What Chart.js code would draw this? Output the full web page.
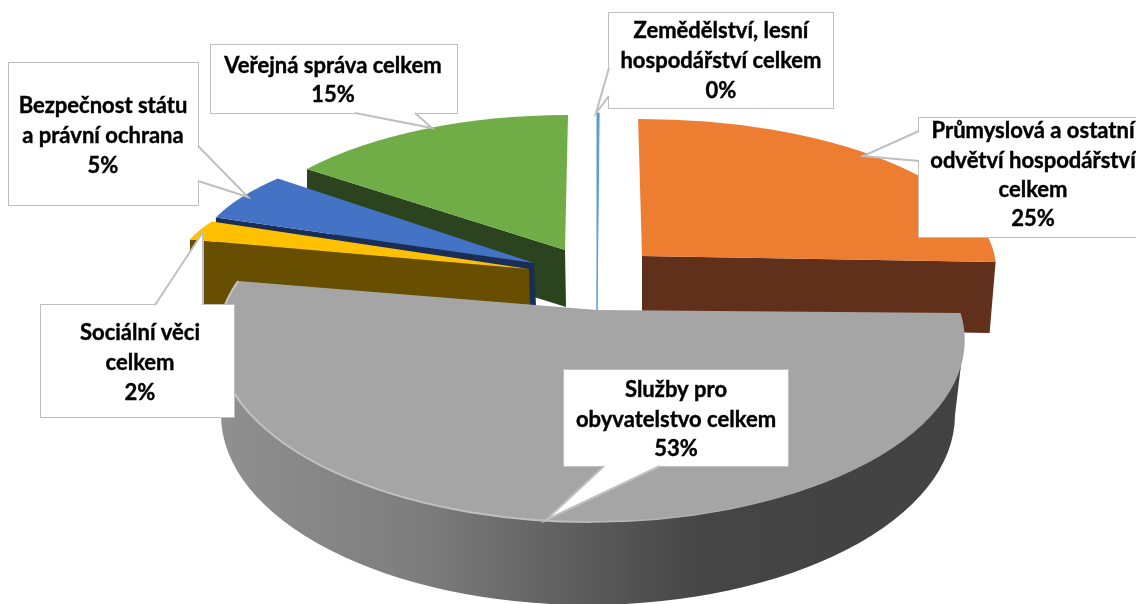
<!DOCTYPE html>
<html><head><meta charset="utf-8">
<style>html,body{margin:0;padding:0;background:#fff}canvas{display:block}</style>
<script src="https://cdn.jsdelivr.net/npm/chart.js@4"></script>
</head><body><canvas id="c" width="1136" height="604"></canvas>
<script>
const categories = ["Zemědělství, lesní hospodářství celkem","Průmyslová a ostatní odvětví hospodářství celkem","Služby pro obyvatelstvo celkem","Sociální věci celkem","Bezpečnost státu a právní ochrana","Veřejná správa celkem"];
const shares = [0.1, 25, 53, 2, 5, 15];
const percentLabels = ["0%","25%","53%","2%","5%","15%"];
const labelLines = [["Zemědělství, lesní","hospodářství celkem"],["Průmyslová a ostatní","odvětví hospodářství","celkem"],["Služby pro","obyvatelstvo celkem"],["Sociální věci","celkem"],["Bezpečnost státu","a právní ochrana"],["Veřejná správa celkem"]];
const topColors = ["#5b9bd5","#ed7d31","#a5a5a5","#ffc000","#4472c4","#70ad47"];
const wallColors = ["#5b9bd5","#61301a","#555555","#674e00","#1a2d57","#2c431f"];

// per-slice projection of the library's arc onto the tilted, exploded plane
const projection = [
 {tip:[597,310],c:[597,263],r:[340,150],d:[0,0],edge:null,h:[0,0]},
 {tip:[642,256],c:[640,269],r:[356,150],d:[-0.66,-2.97],edge:1,h:[71,71],dx:[0,-6]},
 {tip:[597,310],c:[591,340],r:[373,182],d:[-8.77,8],edge:null,h:[0,0]},
 {tip:[529,269],c:[535,263],r:[355,100],d:[2.7,6.4],edge:0,h:[41,70],dx:[1,0]},
 {tip:[534,263],c:[535,261],r:[340,126],d:[2.1,4.8],edge:0,h:[43,43],dx:[2,0]},
 {tip:[565,250],c:[568,265],r:[340,150],d:[3.8,0],edge:0,h:[57,57],dx:[1,0]}
];
const drawOrder = [5,4,3,1,0,2];
const greyBase = {c:[588,415],r:[367,190]};
const callouts = [
 {box:[609,13,833,108],ptr:[[609,68],[596,113],[609,96]],tx:721,ty:[31,61,91]},
 {box:[919,118,1150,237],ptr:[[919,131],[863,156],[919,161]],tx:1033,ty:[131,161,190,219]},
 {box:[564,370,788,466],ptr:[[660,466],[546,520],[604,466]],tx:676,ty:[390,420,449]},
 {box:[41,305,234,417],ptr:[[155,305],[203,232],[203,305]],tx:140,ty:[333,363,393]},
 {box:[9,63,198,205],ptr:[[198,146],[248,197],[198,181]],tx:103,ty:[106,136,166]},
 {box:[211,45,457,113],ptr:[[355,113],[432,128],[415,113]],tx:333,ty:[66,95]}
];
const rad = Math.PI/180;
function pt(g,phi){const a=(phi-90)*rad;return [g.c[0]+g.r[0]*Math.cos(a),g.c[1]+g.r[1]*Math.sin(a)];}
function poly(ctx,p,fill){ctx.beginPath();p.forEach((q,i)=>i?ctx.lineTo(q[0],q[1]):ctx.moveTo(q[0],q[1]));ctx.closePath();ctx.fillStyle=fill;ctx.fill();}
function ell(ctx,g,p0,p1,ccw){ctx.ellipse(g.c[0],g.c[1],g.r[0],g.r[1],0,(p0-90)*rad,(p1-90)*rad,!!ccw);}

const pie3d = {
 id:'pie3d',
 beforeDatasetDraw(chart){
  const ctx=chart.ctx, arcs=chart.getDatasetMeta(0).data;
  drawOrder.forEach(i=>{
   const a=arcs[i], g=projection[i];
   const p0=a.startAngle/rad+90+g.d[0], p1=a.endAngle/rad+90+g.d[1];
   ctx.save();
   if(i===2){
    const top=projection[2];
    const w=ctx.createLinearGradient(218,0,964,0);
    w.addColorStop(0,'#909090');w.addColorStop(.28,'#7c7c7c');w.addColorStop(.5,'#5a5a5a');w.addColorStop(.65,'#454545');w.addColorStop(1,'#424242');
    ctx.beginPath();ell(ctx,top,90,270);ell(ctx,greyBase,270,90,true);ctx.closePath();ctx.fillStyle=w;ctx.fill();
   }
   if(g.edge!==null){
    const cn=pt(g,g.edge?p1:p0);
    poly(ctx,[cn,g.tip,[g.tip[0]+g.dx[0],g.tip[1]+g.h[0]],[cn[0]+g.dx[1],cn[1]+g.h[1]]],wallColors[i]);
   }
   ctx.beginPath();ctx.moveTo(g.tip[0],g.tip[1]);ell(ctx,g,p0,p1);ctx.closePath();
   ctx.fillStyle=a.options.backgroundColor;ctx.fill();
   if(i===0){ctx.strokeStyle=a.options.backgroundColor;ctx.lineWidth=1;ctx.stroke();}
   if(i===2){
    const h=ctx.createLinearGradient(225,0,780,0);
    h.addColorStop(0,'#c4c4c4');h.addColorStop(.6,'#bdbdbd');h.addColorStop(1,'#a5a5a5');
    ctx.beginPath();ell(ctx,g,p1,180,true);ctx.strokeStyle=h;ctx.lineWidth=2;ctx.stroke();
    ctx.beginPath();ell(ctx,g,180,p0,true);ctx.strokeStyle=h;ctx.lineWidth=1.5;ctx.stroke();
   }
   ctx.restore();
  });
  return false;
 },
 afterDraw(chart){
  const ctx=chart.ctx;
  ctx.save();
  callouts.forEach((k,i)=>{
   const [x0,y0,x1,y1]=k.box,[a,b,c]=k.ptr;
   ctx.beginPath();ctx.rect(x0,y0,x1-x0,y1-y0);
   ctx.fillStyle='#fff';ctx.strokeStyle='#bfbfbf';ctx.lineWidth=2;ctx.stroke();ctx.fill();
   ctx.beginPath();ctx.moveTo(a[0],a[1]);ctx.lineTo(b[0],b[1]);ctx.lineTo(c[0],c[1]);ctx.closePath();ctx.fill();
   ctx.beginPath();ctx.moveTo(a[0],a[1]);ctx.lineTo(b[0],b[1]);ctx.lineTo(c[0],c[1]);ctx.stroke();
   ctx.fillStyle='#000';ctx.strokeStyle='#000';ctx.lineWidth=0.4;ctx.font='bold 22px Lato';ctx.textAlign='center';ctx.textBaseline='middle';
   labelLines[i].concat(percentLabels[i]).forEach((t,j)=>{ctx.fillText(t,k.tx,k.ty[j]);ctx.strokeText(t,k.tx,k.ty[j]);});
  });
  ctx.restore();
 }
};
new Chart(document.getElementById('c'),{
 type:'pie',
 data:{labels:categories,datasets:[{data:shares,backgroundColor:topColors,borderWidth:0}]},
 options:{responsive:false,animation:false,plugins:{legend:{display:false},tooltip:{enabled:false}}},
 plugins:[pie3d]
});
</script></body></html>
